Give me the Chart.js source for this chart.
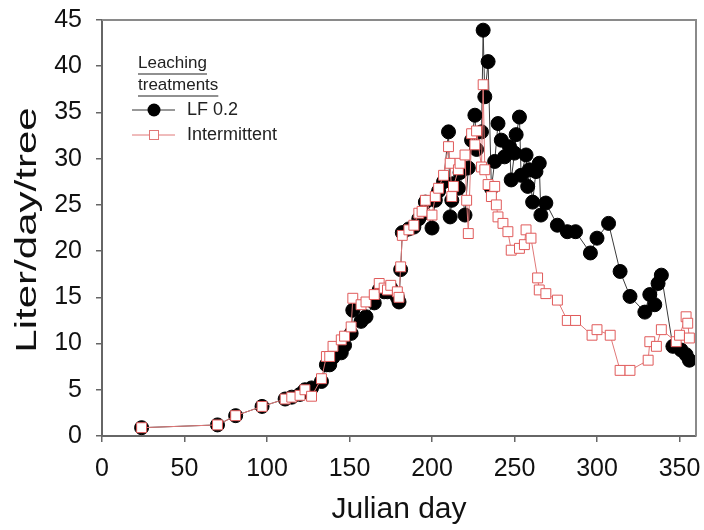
<!DOCTYPE html>
<html>
<head>
<meta charset="utf-8">
<script src="https://cdn.jsdelivr.net/npm/chart.js@4"></script>
<style>
  html, body { margin: 0; padding: 0; background: #fff; }
  #wrap { width: 704px; height: 530px; position: relative; }
</style>
</head>
<body>
<div id="wrap"><canvas id="chart" width="704" height="530"></canvas></div>
<script>
// LF 0.2 treatment (filled circles)
const lfDays = [24, 70, 81, 97, 111, 115, 120, 123, 127, 133, 136, 138, 140, 145, 147, 151, 152, 157, 160, 165,
  168, 171, 173, 175, 179, 180, 181, 182, 186, 189, 192, 194, 196, 200, 202, 204, 207, 210, 211, 212,
  213, 216, 217, 220, 222, 224, 226, 227, 230, 231, 232, 234, 236, 238, 240, 242, 244, 247, 248, 250,
  251, 253, 254, 257, 258, 259, 261, 263, 265, 266, 269, 276, 282, 287, 296, 300, 307, 314, 320, 329,
  332, 335, 337, 339, 346, 351, 354, 356];
const lfValues = [0.9, 1.2, 2.2, 3.2, 4.0, 4.2, 4.5, 5.0, 5.2, 5.9, 7.7, 7.7, 8.5, 9.0, 9.8, 11.1, 13.6, 12.4, 12.9, 14.4,
  15.8, 15.6, 15.6, 16.0, 15.0, 14.5, 18.0, 22.0, 22.4, 22.6, 23.5, 24.0, 25.3, 22.5, 25.5, 26.5, 27.5, 32.9, 23.7, 25.5,
  27.3, 26.8, 28.5, 23.9, 29.0, 32.0, 34.7, 31.0, 32.9, 43.9, 36.7, 40.5, 26.8, 29.7, 33.8, 32.0, 30.2, 31.3, 27.7, 30.6,
  32.6, 34.5, 28.2, 30.4, 27.0, 28.8, 25.3, 28.6, 29.5, 23.9, 25.2, 22.8, 22.1, 22.1, 19.8, 21.4, 23.0, 17.8, 15.1, 13.4,
  15.3, 14.2, 16.5, 17.4, 9.7, 9.3, 8.8, 8.2];

// Intermittent treatment (open squares)
const intDays = [24, 70, 81, 97, 111, 115, 120, 123, 127, 133, 136, 138, 140, 145, 147, 151, 152, 157, 160, 165,
  168, 171, 173, 175, 179, 180, 181, 182, 186, 189, 192, 194, 196, 200, 202, 204, 207, 210, 211, 212,
  213, 216, 217, 220, 221, 222, 224, 226, 227, 230, 231, 232, 234, 236, 238, 239, 240, 243, 246, 248,
  253, 256, 257, 260, 264, 265, 269, 276, 282, 287, 297, 300, 308, 314, 320, 331, 332, 336, 339, 348,
  350, 354, 355, 356];
const intValues = [0.9, 1.2, 2.2, 3.2, 4.0, 4.2, 4.4, 5.0, 4.3, 6.2, 8.6, 8.6, 9.7, 10.4, 10.8, 11.8, 14.9, 14.2, 14.5, 15.3,
  16.5, 16.0, 15.8, 16.3, 15.6, 15.0, 18.3, 21.7, 22.3, 22.8, 24.1, 24.3, 25.5, 23.9, 25.9, 26.8, 28.2, 31.3, 29.5, 25.9,
  27.0, 28.8, 29.5, 30.4, 25.5, 21.9, 32.7, 31.5, 33.0, 29.1, 38.0, 28.8, 27.2, 25.9, 27.0, 25.0, 23.7, 23.0, 22.1, 20.1,
  20.3, 20.7, 22.3, 21.4, 17.1, 15.8, 15.4, 14.7, 12.5, 12.5, 10.9, 11.5, 10.9, 7.1, 7.1, 8.2, 10.2, 9.7, 11.5, 10.2,
  10.9, 12.9, 12.2, 10.6];

const xTicks = [0, 50, 100, 150, 200, 250, 300, 350];
const yTicks = [0, 5, 10, 15, 20, 25, 30, 35, 40, 45];

const FONT = "'Liberation Sans', Arial, sans-serif";

const toPoints = (xs, ys) => xs.map((x, i) => ({ x: x, y: ys[i] }));

// frame on top/right, y title and the hand-drawn legend
const framePlugin = {
  id: "frame",
  afterDraw(chart) {
    const { ctx, chartArea: a } = chart;
    ctx.save();
    ctx.strokeStyle = "#8a8a8a";
    ctx.lineWidth = 2;
    ctx.beginPath();
    ctx.moveTo(a.left, a.top);
    ctx.lineTo(a.right, a.top);
    ctx.lineTo(a.right, a.bottom);
    ctx.stroke();

    // y axis title, stretched along its length like the original
    ctx.save();
    ctx.translate(28, 230);
    ctx.rotate(-Math.PI / 2);
    ctx.scale(1.45, 1);
    ctx.font = "29px " + FONT;
    ctx.fillStyle = "#111";
    ctx.textAlign = "center";
    ctx.textBaseline = "middle";
    ctx.fillText("Liter/day/tree", 0, 0);
    ctx.restore();

    // legend
    ctx.fillStyle = "#222";
    ctx.font = "17px " + FONT;
    ctx.textBaseline = "middle";
    ctx.fillText("Leaching", 138, 63);
    ctx.fillText("treatments", 138, 85);
    ctx.lineWidth = 1.2;
    ctx.strokeStyle = "#222";
    ctx.beginPath();
    ctx.moveTo(138, 74); ctx.lineTo(138 + ctx.measureText("Leaching").width, 74);
    ctx.moveTo(138, 96); ctx.lineTo(138 + ctx.measureText("treatments").width, 96);
    ctx.stroke();

    ctx.font = "18px " + FONT;
    // LF 0.2
    ctx.strokeStyle = "#333";
    ctx.lineWidth = 1;
    ctx.beginPath(); ctx.moveTo(132, 110); ctx.lineTo(175, 110); ctx.stroke();
    ctx.fillStyle = "#000";
    ctx.beginPath(); ctx.arc(154, 110, 6.5, 0, Math.PI * 2); ctx.fill();
    ctx.fillStyle = "#222";
    ctx.fillText("LF 0.2", 187, 110);
    // Intermittent
    ctx.strokeStyle = "#e07878";
    ctx.beginPath(); ctx.moveTo(132, 135); ctx.lineTo(175, 135); ctx.stroke();
    ctx.fillStyle = "#fff";
    ctx.fillRect(149.5, 130.5, 9, 9);
    ctx.strokeRect(149.5, 130.5, 9, 9);
    ctx.fillStyle = "#222";
    ctx.fillText("Intermittent", 187, 135);
    ctx.restore();
  }
};

new Chart(document.getElementById("chart"), {
  type: "line",
  data: {
    datasets: [
      {
        label: "LF 0.2",
        data: toPoints(lfDays, lfValues),
        borderColor: "#3a3a3a",
        borderWidth: 1,
        pointStyle: "circle",
        pointRadius: 7,
        pointBackgroundColor: "#000",
        pointBorderColor: "#000",
        pointBorderWidth: 1,
        tension: 0,
        order: 1
      },
      {
        label: "Intermittent",
        data: toPoints(intDays, intValues),
        borderColor: "#e07878",
        borderWidth: 1,
        pointStyle: "rect",
        pointRadius: 7,
        pointBackgroundColor: "#fff",
        pointBorderColor: "#e05a5a",
        pointBorderWidth: 1,
        tension: 0,
        order: 0
      }
    ]
  },
  options: {
    responsive: false,
    animation: false,
    layout: { padding: { top: 20, right: 7, left: 0, bottom: 0 } },
    plugins: {
      legend: { display: false },
      tooltip: { enabled: false }
    },
    scales: {
      x: {
        type: "linear",
        min: 0,
        max: 360,
        afterBuildTicks: (scale) => { scale.ticks = xTicks.map(v => ({ value: v })); },
        afterFit: (scale) => { scale.height = 94; scale.paddingLeft = 0; scale.paddingRight = 0; },
        border: { display: true, color: "#666", width: 2 },
        grid: { drawOnChartArea: false, drawTicks: true, tickLength: 6, color: "#666", lineWidth: 1.5 },
        ticks: { color: "#111", font: { family: FONT, size: 25 }, padding: 12, maxRotation: 0 },
        title: { display: true, text: "Julian day", color: "#111", font: { family: FONT, size: 30 }, padding: { top: 0, bottom: 2 } }
      },
      y: {
        type: "linear",
        min: 0,
        max: 45,
        afterBuildTicks: (scale) => { scale.ticks = yTicks.map(v => ({ value: v })); },
        afterFit: (scale) => { scale.width = 102; scale.paddingTop = 0; scale.paddingBottom = 0; },
        border: { display: true, color: "#666", width: 2 },
        grid: { drawOnChartArea: false, drawTicks: true, tickLength: 6, color: "#666", lineWidth: 1.5 },
        ticks: { color: "#111", font: { family: FONT, size: 25 }, padding: 14 },
        title: { display: false }
      }
    }
  },
  plugins: [framePlugin]
});
</script>
</body>
</html>
